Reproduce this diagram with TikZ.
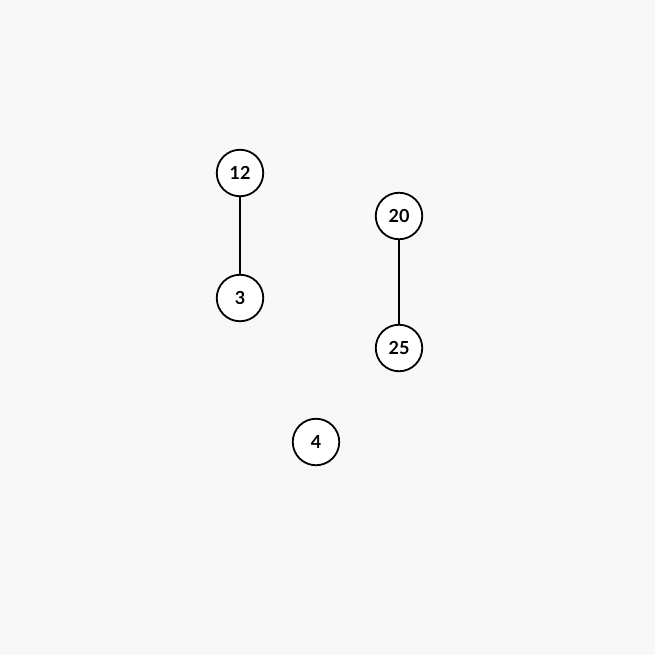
\documentclass[tikz,border=0pt]{standalone}
\usepackage{fontspec}
\setmainfont{Lato}
\begin{document}
\begin{tikzpicture}[x=1pt,y=-1pt,
  vert/.style={circle,draw=black,line width=1.8pt,fill=white,minimum size=46.5pt,inner sep=0pt,font=\bfseries\fontsize{18}{20}\selectfont},
  edge/.style={draw=black,line width=1.6pt}]
\fill[fill={rgb,255:red,248;green,248;blue,248}] (0,0) rectangle (655,655);
\useasboundingbox (0,0) rectangle (655,655);
\node[vert] (n12) at (240,173) {12};
\node[vert] (n3) at (240,298) {3};
\node[vert] (n20) at (399,216) {20};
\node[vert] (n25) at (399,348) {25};
\node[vert] (n4) at (316,442) {4};
\draw[edge] (n12) -- (n3);
\draw[edge] (n20) -- (n25);
\end{tikzpicture}
\end{document}
